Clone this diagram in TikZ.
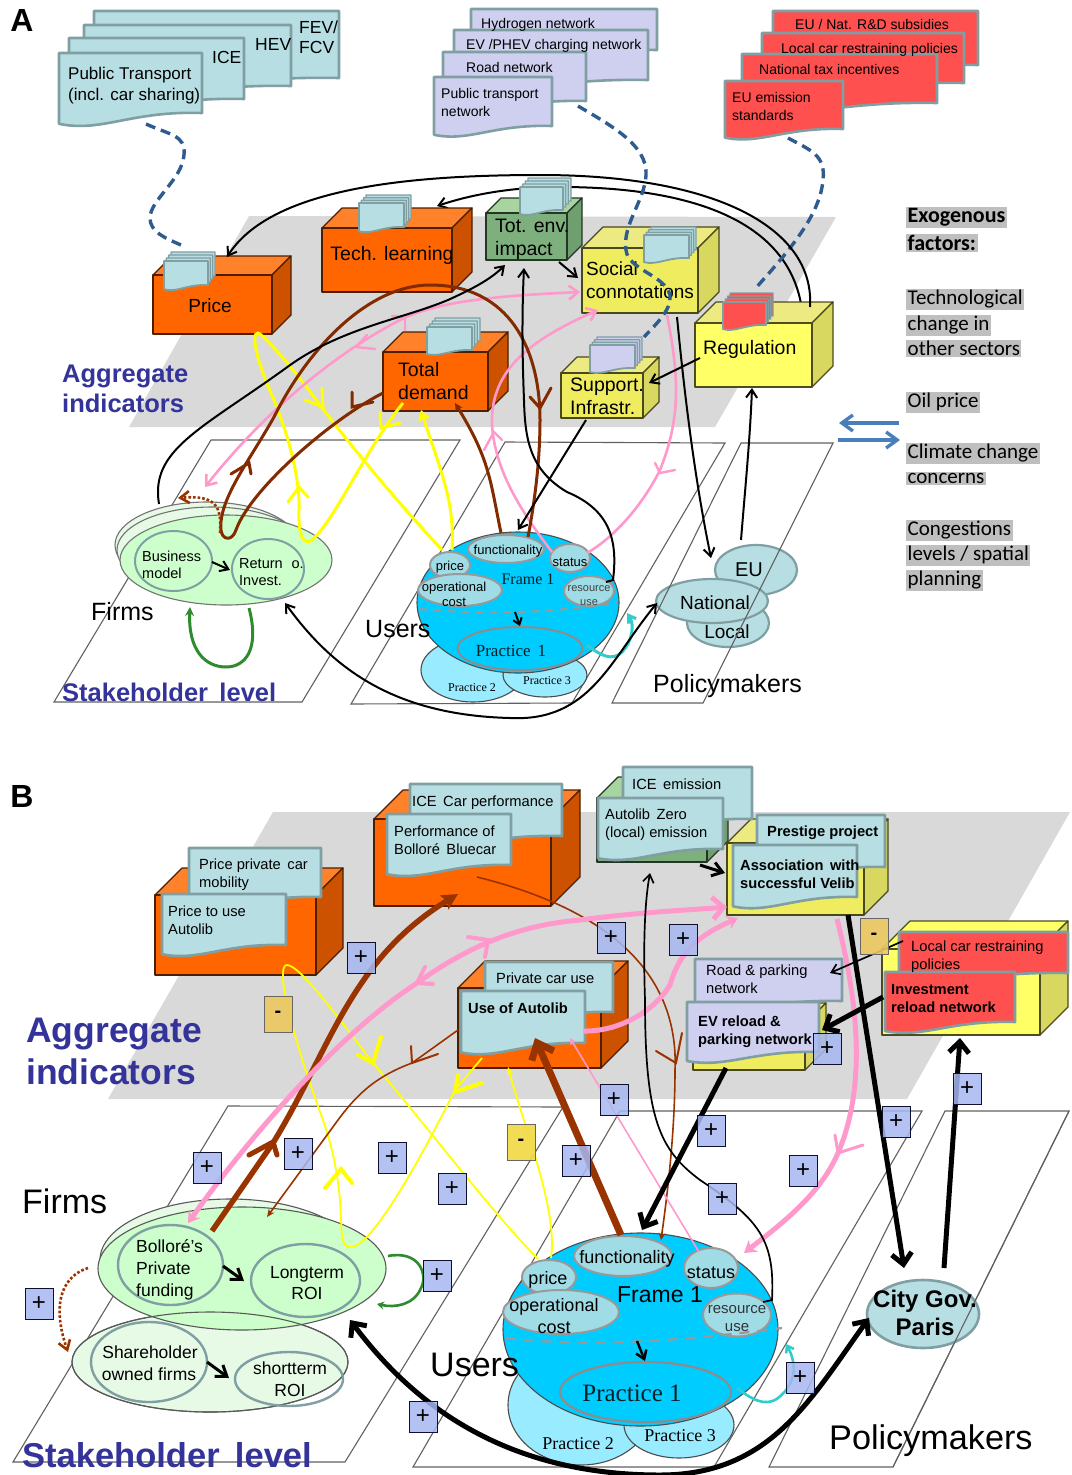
\documentclass[tikz,border=0pt]{standalone}
\usepackage{fontspec}
\setmainfont{Liberation Sans}
\newfontfamily\serf{Liberation Serif}
\newfontfamily\carl{Carlito}
\usetikzlibrary{arrows.meta,shapes.geometric,calc}
\definecolor{plane}{HTML}{D9D9D9}
\definecolor{tealf}{HTML}{B7DEE3}
\definecolor{teals}{HTML}{7F9FA2}
\definecolor{lavf}{HTML}{CFCFF0}
\definecolor{redf}{HTML}{FF5050}
\definecolor{orf}{HTML}{FF6600}
\definecolor{ort}{HTML}{FF8129}
\definecolor{ors}{HTML}{CC5200}
\definecolor{grf}{HTML}{7DB07D}
\definecolor{grt}{HTML}{A8D4A0}
\definecolor{grs}{HTML}{6F9F6F}
\definecolor{yef}{HTML}{F0EC60}
\definecolor{yet}{HTML}{ECEA80}
\definecolor{yes}{HTML}{D8D860}
\definecolor{yeb}{HTML}{FFFF66}
\definecolor{dashb}{HTML}{2F5C8F}
\definecolor{arrb}{HTML}{4A7EBB}
\definecolor{brn}{HTML}{993300}
\definecolor{pnk}{HTML}{FF99CC}
\definecolor{ylw}{HTML}{FFFF00}
\definecolor{grn}{HTML}{2E8B2E}
\definecolor{tlc}{HTML}{33CCCC}
\definecolor{navy}{HTML}{333399}
\definecolor{lightg}{HTML}{CCFFCC}
\definecolor{paleg}{HTML}{E6FAE6}
\definecolor{sph}{HTML}{00CCFF}
\definecolor{prc}{HTML}{99EBFF}
\definecolor{sml}{HTML}{A0DCE6}
\definecolor{plus}{HTML}{A6B8F0}
\definecolor{minus}{HTML}{ECC860}
\definecolor{exo}{HTML}{BFBFBF}
\newcounter{tn}
\tikzset{
 x=1pt,y=-1pt,
 ovl/.style={ellipse,inner sep=0pt},
 lt/.style={inner sep=0pt,anchor=mid west,align=left,yshift=-#1*.27pt,font=\fontsize{#1}{#1}\selectfont},
 ct/.style={inner sep=0pt,anchor=mid,align=center,yshift=-#1*.27pt,font=\fontsize{#1}{#1}\selectfont},
 pln/.style={fill=plane,draw=none},
 par/.style={draw=black!62,line width=1.1pt,fill=none},
 dsh/.style={draw=dashb,line width=3.4pt,dash pattern=on 10pt off 6pt},
 bar2/.style={-{Straight Barb[length=8pt,width=11pt]}},
 bar3/.style={-{Straight Barb[length=10pt,width=14pt]}},
 bar5/.style={-{Straight Barb[length=11pt,width=20pt]}},
 barT/.style={-{Straight Barb[length=11pt,width=16pt]}},
 conA/.style={draw=black,line width=2pt,bar2},
 inner oval/.style={draw=black!40,fill=sml,line width=2pt},
 grey oval/.style={draw=teals,line width=2.4pt,fill=none},
}
\newcommand\TL[5][]{\stepcounter{tn}\node[lt=#2,#1] (t\the\value{tn}) at (#3,#4) {#5};}
\newcommand\TC[5][]{\stepcounter{tn}\node[ct=#2,#1] (t\the\value{tn}) at (#3,#4) {#5};}
\newcommand\OV[6][]{\node[ovl,minimum width=#5*2pt,minimum height=#6*2pt,#1] (#2) at (#3,#4) {};}
% cube: name x1 y1 x2 y2 front top depth
\newcommand\cube[8]{%
 \coordinate (#1) at ({(#2+#4)/2},{(#3+#5)/2});
 \filldraw[draw=black!70!#6,line width=1.2pt,fill=#7,line join=round] (#2,#3) -- ({#2+#8},{#3-#8}) -- ({#4+#8},{#3-#8}) -- (#4,#3) -- cycle;
 \filldraw[draw=black!70!#6,line width=1.2pt,fill=\sidecol,line join=round] (#4,#3) -- ({#4+#8},{#3-#8}) -- ({#4+#8},{#5-#8}) -- (#4,#5) -- cycle;
 \filldraw[draw=black!70!#6,line width=1.2pt,fill=#6,line join=round] (#2,#3) rectangle (#4,#5);
}
% document: x1 y1 x2 yr fill
\newcommand\docu[6][line width=2.6pt]{%
 \pgfmathsetmacro\dW{#4-#2}\pgfmathsetmacro\dH{#5-#3}%
 \filldraw[fill=#6,draw=teals,line join=round,#1] (#2,#3) -- (#4,#3) -- (#4,#5)
  .. controls ({#4-.5*\dW},{#5-.04*\dH}) and ({#2+.3*\dW},{#5+.33*\dH}) .. (#2,{#5+.18*\dH}) -- cycle;
}
% small stack: x y x2 yr backx backy fill
\newcommand\stack[7]{%
 \pgfmathsetmacro\sX{#5-#3}\pgfmathsetmacro\sY{#2-#6}%
 \foreach \tt in {1,.66,.33}{%
  \begin{scope}[shift={({\tt*\sX},{-\tt*\sY})}]
  \docu[line width=1.3pt]{#1}{#2}{#3}{#4}{#7}
  \end{scope}}
 \docu[line width=1.8pt]{#1}{#2}{#3}{#4}{#7}
}
\newcommand\vv[7][]{\draw[#1,line cap=round,line join=miter] (#4,#5) -- (#2,#3) -- (#6,#7);}
\newcommand\PB[3]{\node[draw=black!70!navy,fill=plus,fill opacity=.85,text opacity=1,minimum width=28pt,minimum height=31pt,inner sep=0pt,font=\fontsize{24}{24}\selectfont] (#1) at (#2,#3) {+};}
\newcommand\MB[4][minus]{\node[draw=black!60,fill=#1,fill opacity=.9,text opacity=1,minimum width=28pt,minimum height=36pt,inner sep=0pt,font=\fontsize{20}{20}\bfseries\selectfont] (#2) at (#3,#4) {-};}
\newcommand\EX[3][]{\stepcounter{tn}\node[fill=exo,inner sep=1.5pt,anchor=mid west,yshift=-5pt,font=\carl\fontsize{21}{21}\selectfont,#1] (t\the\value{tn}) at (906,#2) {#3};}
\begin{document}
\begin{tikzpicture}
\useasboundingbox (0,0) rectangle (1071,1475);
\fill[white] (0,0) rectangle (1071,1475);
%%%%%%%%%%%%%%%%%%%%%%%%%%%%%%%%%%%% PANEL A
\TC[font=\bfseries\fontsize{32}{32}\selectfont]{32}{22}{20}{A}
\fill[pln] (249,216) -- (836,217) -- (715,427) -- (129,427) -- cycle;
\draw[par] (211,440) -- (460,440) -- (302,702) -- (54,702) -- cycle;
\draw[par] (505,442) -- (725,443) -- (572,703) -- (351,704) -- cycle;
% black curve behind stacks
\coordinate (regB) at (802,310); \coordinate (techT) at (437,206);
\draw[conA] (regB) .. controls (790,220) and (690,187) .. (560,187) .. controls (510,187) and (470,195) .. (techT);
% cubes
\def\sidecol{ors}
\cube{priceA}{153}{275}{272}{334}{orf}{ort}{19}
\cube{techA}{322}{228}{452}{292}{orf}{ort}{20}
\cube{demA}{383}{352}{488}{411}{orf}{ort}{20}
\def\sidecol{grs}
\cube{envA}{486}{213}{567}{260}{grf}{grt}{15}
\def\sidecol{yes}
\cube{socA}{582}{248}{698}{313}{yef}{yet}{21}
\def\sidecol{yes}
\cube{regA}{695}{323}{812}{387}{yeb}{yet}{21}
\cube{supA}{561}{373}{643}{418}{yef}{yet}{16}
% small stacks
\stack{164}{261}{208}{285}{215}{252}{tealf}
\stack{359}{203}{404}{227}{411}{195}{tealf}
\stack{520}{187}{563}{210}{571}{178}{tealf}
\stack{644}{235}{689}{258}{696}{227}{tealf}
\stack{723}{302}{766}{325}{773}{293}{redf}
\stack{590}{345}{635}{368}{642}{337}{lavf}
\stack{427}{327}{472}{350}{480}{318}{tealf}
% cube labels
\TC{19}{210}{305}{Price}
\TC{19.5}{392}{253}{Tech. learning}
\TL{19.5}{495}{225}{Tot. env.}
\TL{19.5}{495}{248}{impact}
\TL{19}{586}{268}{Social}
\TL{19}{586}{291}{connotations}
\TL{19.5}{703}{347}{Regulation}
\TL{19.5}{570}{384}{Support.}
\TL{19.5}{570}{407}{Infrastr.}
\TL{19.5}{398}{369}{Total}
\TL{19.5}{398}{392}{demand}
% doc stacks
\docu{94}{11}{339}{78}{tealf}
\docu{84}{25}{291}{86}{tealf}
\docu{69}{38}{244}{99}{tealf}
\docu{59}{53}{202}{113}{tealf}
\TL{17.5}{299}{26}{FEV/}\TL{17.5}{299}{46}{FCV}
\TL{17.5}{255}{43}{HEV}\TL{17.5}{212}{56}{ICE}
\TL{17}{68}{72}{Public Transport}\TL{17}{68}{93}{(incl. car sharing)}
\docu{471}{9}{657}{50}{lavf}
\docu{454}{30}{648}{80}{lavf}
\docu{443}{52}{586}{101}{lavf}
\docu{434}{77}{552}{126}{lavf}
\TL{14}{481}{22}{Hydrogen network}
\TL{14}{466}{43}{EV /PHEV charging network}
\TL{14}{466}{66}{Road network}
\TL{14}{441}{92}{Public transport}\TL{14}{441}{110}{network}
\docu{773}{11}{978}{65}{redf}
\docu{762}{33}{964}{83}{redf}
\docu{742}{54}{937}{103}{redf}
\docu{725}{81}{843}{129}{redf}
\TL{14}{795}{23}{EU / Nat. R\&D subsidies}
\TL{14}{781}{47}{Local car restraining policies}
\TL{14}{759}{68}{National tax incentives}
\TL{14}{732}{96}{EU emission}\TL{14}{732}{114}{standards}
% headings
\TL[font=\bfseries\fontsize{25.5}{25.5}\selectfont,text=navy]{25.5}{62}{373}{Aggregate}
\TL[font=\bfseries\fontsize{25.5}{25.5}\selectfont,text=navy]{25.5}{62}{403}{indicators}
\EX[font=\carl\bfseries\fontsize{22}{22}\selectfont]{215}{Exogenous}
\EX[font=\carl\bfseries\fontsize{22}{22}\selectfont]{243}{factors:}
\EX{297}{Technological}\EX{323}{change in}\EX{348}{other sectors}
\EX{400}{Oil price}\EX{451}{Climate change}\EX{476}{concerns}
\EX{528}{Congestions}\EX{553}{levels / spatial}\EX{578}{planning}
\coordinate (ba1) at (899,423); \coordinate (ba2) at (839,423);
\coordinate (bb1) at (838,440); \coordinate (bb2) at (900,440);
\draw[draw=arrb,line width=3.4pt,barT] (ba1) -- (ba2);
\draw[draw=arrb,line width=3.4pt,barT] (bb1) -- (bb2);
% firms
\OV[draw=black!55,fill=paleg,line width=1.1pt]{fa1}{207}{545}{92}{43}
\OV[draw=black!55,fill=paleg,line width=1.1pt]{fa2}{212}{550}{95}{43}
\OV[draw=black!55,fill=lightg,line width=1.1pt]{fa3}{226}{560}{106}{45}
\OV[draw=teals,line width=2pt]{bus}{173.5}{561}{38.5}{30}
\OV[draw=teals,line width=2pt]{roi}{268}{569}{36}{30}
\TL{14.5}{142}{555}{Business}\TL{14.5}{142}{572}{model}
\TL{14.5}{239}{562}{Return\,\, o.}\TL{14.5}{239}{579}{Invest.}
\coordinate (ba) at (212,562); \coordinate (bc) at (230,570);
\draw[conA] (ba) -- (bc);
\TL{25}{91}{611}{Firms}
\TL[font=\bfseries\fontsize{25.5}{25.5}\selectfont,text=navy]{25.5}{62}{692}{Stakeholder\, level}
% users
\OV[draw=black!70,fill=prc,line width=1.1pt]{pr2}{473}{670}{52}{32}
\OV[draw=black!70,fill=prc,line width=1.1pt]{pr3}{545}{675}{42}{22}
\OV[draw=black!70,fill=sph,line width=1.1pt]{sphA}{518}{602.5}{101}{70.5}
\OV[inner oval]{funcA}{506}{549}{38}{14}
\OV[inner oval]{priA}{450}{565}{20}{13}
\OV[inner oval]{opA}{460}{590}{42}{16}
\OV[inner oval]{staA}{570}{558}{20}{14}
\OV[inner oval]{resA}{589}{591}{25}{15}
\OV[draw=black!45,fill=none,line width=2pt]{pr1}{520}{648.5}{62.5}{21.5}
\coordinate (dga) at (420,609); \coordinate (dgb) at (617,602);
\draw[draw=black!40,line width=2pt,dash pattern=on 8pt off 6pt] (dga) .. controls (480,615) and (560,613) .. (dgb);
\coordinate (sa) at (515,612); \coordinate (sb) at (520,626);
\draw[draw=black,line width=2pt,-{Straight Barb[length=6pt,width=9pt]}] (sa) -- (sb);
\TC{13}{508}{548}{functionality}\TC{13}{450}{564}{price}
\TC{13}{454}{585}{operational}\TC{13}{454}{600}{cost}
\TC{13}{570}{560}{status}
\TC[text=black!75]{11}{589}{586}{resource}\TC[text=black!75]{11}{589}{600}{use}
\TC[font=\serf\fontsize{16}{16}\selectfont,text=black!85!sph]{16}{528}{578}{Frame 1}
\TC[font=\serf\fontsize{17}{17}\selectfont,text=black!85!sph]{17}{511}{649}{Practice\, 1}
\TC[font=\serf\fontsize{12}{12}\selectfont]{12}{472}{686}{Practice 2}
\TC[font=\serf\fontsize{12}{12}\selectfont]{12}{547}{679}{Practice 3}
\TL{25}{365}{628}{Users}
% policymakers
\OV[draw=teals,fill=tealf,line width=2.2pt]{euA}{756}{570}{41}{25}
\OV[draw=teals,fill=tealf,line width=2.2pt]{locA}{728}{623}{41}{24}
\OV[draw=teals,fill=tealf,line width=2.2pt]{natA}{712}{601}{56}{22}
\TC{20}{749}{568}{EU}\TC{19}{715}{602}{National}\TC{19}{727}{631}{Local}
\draw[par] (741,443) -- (833,443) -- (703,703) -- (612,703) -- cycle;
\TL{25}{653}{683}{Policymakers}
% dashed
\coordinate (d1a) at (146,124); \coordinate (d1b) at (181,245);
\draw[dsh] (d1a) .. controls (170,135) and (186,135) .. (184,155) .. controls (182,180) and (150,200) .. (150,218) .. controls (150,232) and (165,238) .. (d1b);
\coordinate (d2a) at (578,106); \coordinate (d2b) at (644,337);
\draw[dsh] (d2a) .. controls (610,125) and (648,145) .. (646,175) .. controls (645,200) and (622,225) .. (626,250) .. controls (628,270) and (665,275) .. (670,295) .. controls (672,310) and (655,325) .. (d2b);
\coordinate (d3a) at (788,138); \coordinate (d3b) at (754,290);
\draw[dsh] (d3a) .. controls (810,150) and (826,155) .. (823,180) .. controls (820,215) and (790,250) .. (d3b);
% yellow
\coordinate (yaS) at (442,550); \coordinate (yaE) at (403,403);
\draw[draw=ylw,line width=3pt] (yaS) .. controls (400,505) and (350,445) .. (320,405) .. controls (295,370) and (262,333) .. (258,333) .. controls (250,333) and (258,365) .. (274,400) .. controls (290,440) and (300,480) .. (299,510) .. controls (298,540) and (305,545) .. (312,540) .. controls (335,520) and (365,450) .. (yaE);
\vv[draw=ylw,line width=3pt]{299}{487}{288}{502}{308}{497}
\vv[draw=ylw,line width=3pt]{381}{428}{380}{413}{400}{423}
\vv[draw=ylw,line width=3pt]{323}{407}{322}{388}{305}{400}
\coordinate (ybS) at (452,550); \coordinate (ybE) at (421,410);
\draw[draw=ylw,line width=3pt,-{Straight Barb[length=7pt,width=9pt]}] (ybS) .. controls (455,500) and (440,470) .. (ybE);
% pink
\coordinate (p1S) at (205,487); \coordinate (p1E) at (580,292);
\draw[draw=pnk,line width=2.6pt,{Straight Barb[length=9pt,width=14pt]}-{Straight Barb[length=9pt,width=14pt]}] (p1S) .. controls (250,430) and (320,360) .. (406,317) .. controls (450,298) and (520,295) .. (p1E);
\vv[draw=pnk,line width=2.4pt]{356}{347}{375}{349}{367}{335}
\vv[draw=pnk,line width=2.4pt]{405}{317}{405}{330}{392}{316}
\coordinate (p2S) at (552,552); \coordinate (p2E) at (598,310);
\draw[draw=pnk,line width=2.6pt,-{Straight Barb[length=9pt,width=14pt]}] (p2S) .. controls (520,510) and (495,470) .. (492,425) .. controls (490,370) and (530,340) .. (p2E);
\vv[draw=pnk,line width=2.4pt]{494}{432}{484}{450}{502}{440}
\coordinate (p3S) at (667,315); \coordinate (p3E) at (587,553);
\draw[draw=pnk,line width=2.6pt] (p3S) .. controls (680,380) and (680,420) .. (660,470) .. controls (640,510) and (610,540) .. (p3E);
\vv[draw=pnk,line width=2.4pt]{660}{473}{655}{463}{675}{470}
% brown
\coordinate (b1S) at (383,393); \coordinate (b1E) at (528,537);
\draw[draw=brn!85!black,line width=3pt,line join=round] (b1S) .. controls (330,420) and (250,490) .. (236,530) .. controls (232,542) and (222,540) .. (221,530) .. controls (218,500) and (250,460) .. (274,417) .. controls (310,345) and (370,285) .. (430,285) .. controls (510,285) and (540,350) .. (540,420) .. controls (540,460) and (535,500) .. (b1E);
\vv[draw=brn!85!black,line width=3pt]{249}{463}{231}{474}{251}{474}
\vv[draw=brn!85!black,line width=3pt]{352}{407}{373}{402}{352}{392}
\vv[draw=brn!85!black,line width=3pt]{540}{408}{530}{397}{551}{388}
\coordinate (b2S) at (501,533); \coordinate (b2E) at (455,403);
\draw[draw=brn!85!black,line width=3pt,-{Stealth[length=8pt,width=8pt]}] (b2S) .. controls (490,480) and (490,460) .. (b2E);
\coordinate (b3S) at (220,533); \coordinate (b3E) at (178,498);
\draw[draw=brn,line width=2.6pt,dotted,-{Straight Barb[length=9pt,width=12pt]}] (b3S) .. controls (222,505) and (215,495) .. (b3E);
% green, teal
\coordinate (g1S) at (249,608); \coordinate (g1E) at (190,607);
\draw[draw=grn,line width=3pt,-{Stealth[length=9pt,width=9pt]}] (g1S) .. controls (260,650) and (245,667) .. (226,667) .. controls (205,667) and (188,650) .. (g1E);
\coordinate (teS) at (587,645); \coordinate (teE) at (627,613);
\draw[draw=tlc,line width=3pt,-{Straight Barb[length=7pt,width=9pt]}] (teS) .. controls (600,655) and (612,662) .. (622,652) .. controls (632,642) and (635,625) .. (teE);
% black
\coordinate (k1S) at (810,307); \coordinate (k1E) at (227,257);
\draw[conA] (k1S) .. controls (815,230) and (720,175) .. (540,175) .. controls (400,175) and (270,190) .. (k1E);
\coordinate (k2S) at (159,504); \coordinate (k2E) at (505,265);
\draw[conA] (k2S) .. controls (150,450) and (200,430) .. (286,368) .. controls (340,328) and (400,320) .. (448,300) .. controls (470,290) and (490,280) .. (k2E);
\coordinate (k3S) at (606,582); \coordinate (k3E) at (524,268);
\draw[conA] (k3S) -- (613,580) .. controls (618,540) and (610,510) .. (567,492) .. controls (530,470) and (525,440) .. (524,400) .. controls (522,350) and (522,310) .. (k3E);
\coordinate (k4S) at (559,262); \coordinate (k4E) at (578,278);
\draw[conA] (k4S) -- (k4E);
\coordinate (k5S) at (700,358); \coordinate (k5E) at (649,383);
\draw[conA] (k5S) -- (k5E);
\coordinate (k6S) at (586,420); \coordinate (k6E) at (518,530);
\draw[conA] (k6S) -- (k6E);
\coordinate (k7S) at (677,317); \coordinate (k7E) at (711,558);
\draw[conA] (k7S) .. controls (685,400) and (695,480) .. (k7E);
\coordinate (k8S) at (741,540); \coordinate (k8E) at (752,388);
\draw[conA] (k8S) .. controls (745,490) and (750,440) .. (k8E);
\coordinate (k9S) at (285,603); \coordinate (k9E) at (657,603);
\draw[conA,{Straight Barb[length=8pt,width=11pt]}-{Straight Barb[length=8pt,width=11pt]}] (k9S) .. controls (330,665) and (390,715) .. (510,718) .. controls (590,722) and (610,660) .. (k9E);
%%%%%%%%%%%%%%%%%%%%%%%%%%%%%%%%%%%% PANEL B
\TC[font=\bfseries\fontsize{32}{32}\selectfont]{32}{22}{796}{B}
\fill[pln] (273,812) -- (1070,812) -- (907,1099) -- (108,1099) -- cycle;
\draw[par] (228,1106) -- (563,1107) -- (345,1462) -- (13,1462) -- cycle;
\draw[par] (620,1111) -- (922,1111) -- (714,1467) -- (413,1467) -- cycle;
\draw[par] (945,1111) -- (1069,1111) -- (893,1467) -- (769,1467) -- cycle;
\def\sidecol{ors}
\cube{priceB}{155}{895}{316}{975}{orf}{ort}{27}
\cube{perfB}{374}{819}{551}{906}{orf}{ort}{29}
\cube{useB}{458}{988}{601}{1068}{orf}{ort}{27}
\def\sidecol{grs}
\cube{envB}{597}{798}{707}{862}{grf}{grt}{21}
\def\sidecol{yes}
\cube{presB}{727}{843}{864}{915}{yef}{yet}{24}
\cube{evB}{693}{1024}{805}{1070}{yef}{yet}{21}
\cube{locB}{882}{949}{1040}{1035}{yeb}{yeb}{28}
\docu{189}{848}{321}{897}{tealf}
\docu{162}{894}{286}{945}{tealf}
\docu{410}{784}{562}{836}{tealf}
\docu{387}{814}{511}{865}{tealf}
\docu{485}{962}{613}{1012}{tealf}
\docu{461}{991}{585}{1043}{tealf}
\docu{623}{767}{752}{819}{tealf}
\docu{598}{798}{723}{849}{tealf}
\docu{757}{815}{885}{867}{tealf}
\docu{733}{845}{857}{897}{tealf}
\docu{899}{932}{1068}{973}{redf}
\docu{885}{972}{1015}{1022}{redf}
\docu{695}{959}{842}{1001}{lavf}
\docu{687}{1002}{819}{1052}{lavf}
\TL{14.7}{199}{863}{Price private\, car}\TL{14.7}{199}{881}{mobility}
\TL{14.7}{168}{910}{Price to use}\TL{14.7}{168}{928}{Autolib}
\TL{14.7}{412}{800}{ICE\, Car performance}
\TL{14.7}{394}{830}{Performance of}\TL{14.7}{394}{848}{Bolloré\, Bluecar}
\TL{14.7}{496}{977}{Private car use}
\TL{14.7}{468}{1007}{\textbf{Use of Autolib}}
\TL{14.7}{632}{783}{ICE\, emission}
\TL{14.7}{605}{813}{Autolib\, Zero}\TL{14.7}{605}{831}{(local) emission}
\TL{14.7}{767}{830}{\textbf{Prestige project}}
\TL{14.7}{740}{864}{\textbf{Association\, with}}\TL{14.7}{740}{882}{\textbf{successful Velib}}
\TL{14.7}{911}{945}{Local car restraining}\TL{14.7}{911}{963}{policies}
\TL{14.7}{891}{988}{\textbf{Investment}}\TL{14.7}{891}{1006}{\textbf{reload network}}
\TL{14.7}{706}{969}{Road \& parking}\TL{14.7}{706}{987}{network}
\TL{14.7}{698}{1020}{\textbf{EV reload \&}}\TL{14.7}{698}{1038}{\textbf{parking network}}
\TL[font=\bfseries\fontsize{35.5}{35.5}\selectfont,text=navy]{35.5}{26}{1030}{Aggregate}
\TL[font=\bfseries\fontsize{35.5}{35.5}\selectfont,text=navy]{35.5}{26}{1072}{indicators}
% firms B
\OV[draw=black!65,fill=paleg,line width=1.1pt]{fb0}{230}{1260}{130}{61}
\OV[draw=black!65,fill=paleg,line width=1.1pt]{shB}{210}{1362}{138}{50}
\OV[draw=black!65,fill=lightg,line width=1.1pt]{fb1}{242}{1268.5}{144}{61.5}
\OV[draw=black!65,line width=1.1pt]{shC}{210}{1362}{138}{50}
\OV[grey oval]{bolB}{170.5}{1265}{52.5}{40}
\OV[grey oval]{lonB}{305.5}{1280.5}{54.5}{36.5}
\OV[grey oval]{shoB}{149}{1362}{58}{40}
\OV[grey oval]{strB}{289}{1379}{54}{27}
\TL{17.5}{136}{1245}{Bolloré’s}\TL{17.5}{136}{1267}{Private}\TL{17.5}{136}{1289}{funding}
\TC{17.5}{307}{1271}{Longterm}\TC{17.5}{307}{1292}{ROI}
\TC{17.5}{150}{1351}{Shareholder}\TC{17.5}{149}{1373}{owned firms}
\TC{17.5}{290}{1367}{shortterm}\TC{17.5}{290}{1389}{ROI}
\coordinate (aa) at (223,1266); \coordinate (ab) at (244,1281);
\draw[draw=black,line width=3pt,bar3] (aa) -- (ab);
\coordinate (ac) at (207,1362); \coordinate (ad) at (229,1378);
\draw[draw=black,line width=3pt,bar3] (ac) -- (ad);
\TL{34}{22}{1202}{Firms}
\TL[font=\bfseries\fontsize{34.5}{34.5}\selectfont,text=navy]{34.5}{22}{1456}{Stakeholder\, level}
% users B
\OV[draw=black!70,fill=prc,line width=1.1pt]{pb2}{581}{1405}{73}{60}
\OV[draw=black!70,fill=prc,line width=1.1pt]{pb3}{679}{1425}{55}{33}
\OV[draw=black!70,fill=sph,line width=1.1pt]{sphB}{640.5}{1329.5}{137.5}{96.5}
\OV[inner oval]{fnB}{623}{1256}{49}{20}
\OV[inner oval]{prB}{549}{1277}{27}{17}
\OV[inner oval]{opB}{561}{1312}{58}{22}
\OV[inner oval]{stB}{711}{1268}{27}{20}
\OV[inner oval]{reB}{737}{1315}{34}{21.5}
\OV[draw=black!45,fill=none,line width=2.2pt]{pb1}{645.5}{1392}{85.5}{30}
\coordinate (dgc) at (506,1338); \coordinate (dgd) at (782,1328);
\draw[draw=black!40,line width=2.2pt,dash pattern=on 10pt off 8pt] (dgc) .. controls (590,1348) and (690,1340) .. (dgd);
\coordinate (se) at (637,1341); \coordinate (sf) at (645,1361);
\draw[draw=black,line width=2.5pt,bar2] (se) -- (sf);
\TC{18}{627}{1256}{functionality}\TC{18}{548}{1277}{price}
\TC{18}{554}{1304}{operational}\TC{18}{554}{1326}{cost}
\TC{18}{711}{1271}{status}
\TC[text=black!80]{15}{737}{1307}{resource}\TC[text=black!80]{15}{737}{1325}{use}
\TC{23}{660}{1294}{Frame 1}
\TC[font=\serf\fontsize{25}{25}\selectfont,text=black!85!sph]{25}{632}{1392}{Practice 1}
\TC[font=\serf\fontsize{18}{18}\selectfont]{18}{578}{1442}{Practice 2}
\TC[font=\serf\fontsize{18}{18}\selectfont]{18}{680}{1434}{Practice 3}
\TL{34}{430}{1365}{Users}
\OV[draw=teals,fill=tealf,line width=2.6pt]{cityB}{923}{1314}{56}{34}
\draw[draw=black!62,line width=1.1pt] (1069,1111) -- (893,1467);
\TC{24}{925}{1298}{\textbf{City Gov.}}\TC{24}{925}{1326}{\textbf{Paris}}
\TL{34.2}{829}{1438}{Policymakers}
% yellow B
\coordinate (yyS) at (538,1259); \coordinate (yyE) at (482,1058);
\draw[draw=ylw,line width=1.8pt] (yyS) .. controls (490,1210) and (430,1130) .. (373,1063) .. controls (340,1020) and (300,965) .. (287,965) .. controls (275,965) and (290,1030) .. (323,1120) .. controls (335,1155) and (338,1180) .. (340,1200) .. controls (342,1230) and (340,1247) .. (350,1247) .. controls (370,1250) and (420,1160) .. (455,1090) -- (yyE);
\vv[draw=ylw,line width=4pt]{373}{1063}{358}{1055}{381}{1037}
\vv[draw=ylw,line width=4pt]{341}{1169}{325}{1188}{352}{1183}
\vv[draw=ylw,line width=4pt]{455}{1092}{458}{1075}{482}{1083}
\coordinate (yzS) at (551,1258); \coordinate (yzE) at (508,1067);
\draw[draw=ylw,line width=1.8pt,-{Stealth[length=8pt,width=7pt]}] (yzS) .. controls (558,1210) and (525,1130) .. (yzE);
% brown B
\coordinate (bbS) at (212,1231); \coordinate (bbE) at (458,894);
\draw[draw=brn,line width=5.5pt,-{Stealth[length=16pt,width=16pt,inset=3pt]}] (bbS) -- (273,1143) .. controls (330,1050) and (350,960) .. (bbE);
\vv[draw=brn,line width=5pt]{273}{1142}{249}{1155}{277}{1155}
\coordinate (bcS) at (477,877); \coordinate (bcE) at (661,1240);
\draw[draw=brn,line width=1.6pt,-{Stealth[length=7pt,width=7pt]}] (bcS) .. controls (570,900) and (680,950) .. (675,1070) .. controls (675,1130) and (668,1190) .. (bcE);
\vv[draw=brn,line width=2pt]{676}{1063}{656}{1051}{682}{1033}
\coordinate (bdS) at (458,1030); \coordinate (bdE) at (267,1217);
\draw[draw=brn,line width=1.6pt,-{Stealth[length=8pt,width=7pt]}] (bdS) -- (412,1063) .. controls (380,1075) and (360,1090) .. (338,1120) -- (bdE);
\vv[draw=brn,line width=2pt]{412}{1063}{411}{1046}{438}{1054}
\coordinate (beS) at (621,1235); \coordinate (beE) at (535,1038);
\draw[draw=brn,line width=7pt,-{Straight Barb[length=14pt,width=24pt]}] (beS) -- (beE);
\coordinate (bfS) at (88,1268); \coordinate (bfE) at (68,1352);
\draw[draw=brn,line width=2.6pt,dotted,-{Straight Barb[length=9pt,width=12pt]}] (bfS) .. controls (65,1275) and (50,1300) .. (bfE);
% pink B
\coordinate (paS) at (188,1223); \coordinate (paE) at (727,907);
\draw[draw=pnk,line width=5pt,{Stealth[length=11pt,width=14pt]}-{Straight Barb[length=11pt,width=22pt]}] (paS) .. controls (240,1150) and (330,1040) .. (417,983) .. controls (470,945) and (520,925) .. (580,920) .. controls (640,912) and (690,910) .. (paE);
\vv[draw=pnk,line width=4pt]{417}{983}{425}{967}{433}{984}
\vv[draw=pnk,line width=4pt]{488}{940}{468}{937}{485}{957}
\coordinate (pbS) at (583,1031); \coordinate (pbE) at (738,918);
\draw[draw=pnk,line width=5pt,-{Stealth[length=11pt,width=14pt]}] (pbS) .. controls (620,1032) and (655,1010) .. (670,985) .. controls (680,950) and (700,935) .. (pbE);
\coordinate (pcS) at (837,919); \coordinate (pcE) at (744,1253);
\draw[draw=pnk,line width=5pt,-{Stealth[length=12pt,width=15pt]}] (pcS) .. controls (860,1010) and (865,1090) .. (838,1153) .. controls (820,1195) and (780,1225) .. (pcE);
\vv[draw=pnk,line width=3pt]{838}{1153}{835}{1135}{863}{1145}
\coordinate (pdS) at (699,1252); \coordinate (pdE) at (570,1038);
\draw[draw=pnk,line width=1.6pt,-{Stealth[length=7pt,width=7pt]}] (pdS) -- (pdE);
% green teal B
\coordinate (gbS) at (388,1256); \coordinate (gbE) at (377,1304);
\draw[draw=grn,line width=2.6pt,-{Stealth[length=7pt,width=8pt]}] (gbS) .. controls (420,1250) and (428,1275) .. (421,1288) .. controls (414,1305) and (395,1308) .. (gbE);
\coordinate (tbS) at (737,1388); \coordinate (tbE) at (786,1344);
\draw[draw=tlc,line width=2.6pt,-{Straight Barb[length=6pt,width=9pt]}] (tbS) .. controls (750,1398) and (765,1408) .. (778,1398) .. controls (795,1385) and (798,1365) .. (tbE);
% black B
\coordinate (kaS) at (726,1068); \coordinate (kaE) at (642,1230);
\draw[draw=black,line width=5pt,bar5] (kaS) -- (kaE);
\coordinate (kbS) at (848,915); \coordinate (kbE) at (904,1268);
\draw[draw=black,line width=5pt,bar5] (kbS) -- (kbE);
\coordinate (kcS) at (944,1268); \coordinate (kcE) at (960,1038);
\draw[draw=black,line width=5pt,bar5] (kcS) -- (kcE);
\coordinate (kdS) at (883,997); \coordinate (kdE) at (822,1030);
\draw[draw=black,line width=5pt,bar5] (kdS) -- (kdE);
\coordinate (keS) at (903,941); \coordinate (keE) at (830,973);
\draw[draw=black,line width=1.7pt,bar2] (keS) -- (keE);
\coordinate (kfS) at (700,865); \coordinate (kfE) at (725,873);
\draw[draw=black,line width=3pt,bar3] (kfS) -- (kfE);
\coordinate (kgS) at (763,1302); \coordinate (kgE) at (650,873);
\draw[draw=black,line width=1.7pt,bar2] (kgS) -- (772,1300) .. controls (775,1240) and (760,1220) .. (700,1180) .. controls (660,1150) and (645,1120) .. (645,1000) .. controls (643,940) and (645,900) .. (kgE);
\coordinate (khS) at (350,1320); \coordinate (khE) at (869,1318);
\draw[draw=black,line width=5pt,{Straight Barb[length=11pt,width=20pt]}-{Straight Barb[length=11pt,width=20pt]}] (khS) .. controls (410,1400) and (500,1475) .. (660,1475) .. controls (770,1475) and (810,1400) .. (khE);
% plus / minus
\PB{pl1}{361}{958}\PB{pl2}{611}{938}\PB{pl3}{683}{940}\PB{pl4}{827}{1049}
\PB{pl5}{967}{1089}\PB{pl6}{896}{1122}\PB{pl7}{711}{1131}\PB{pl8}{803}{1171}
\PB{pl9}{722}{1199}\PB{pl10}{614}{1100}\PB{pl11}{576}{1161}\PB{pl12}{452}{1189}
\PB{pl13}{392}{1158}\PB{pl14}{298}{1154}\PB{pl15}{207}{1168}\PB{pl16}{437}{1276}
\PB{pl17}{39}{1304}\PB{pl18}{423}{1417}\PB{pl19}{800}{1378}
\MB{mi1}{278}{1014}\MB{mi2}{874}{936}\MB[minus!70!yellow]{mi3}{521}{1142}
\end{tikzpicture}
\end{document}
